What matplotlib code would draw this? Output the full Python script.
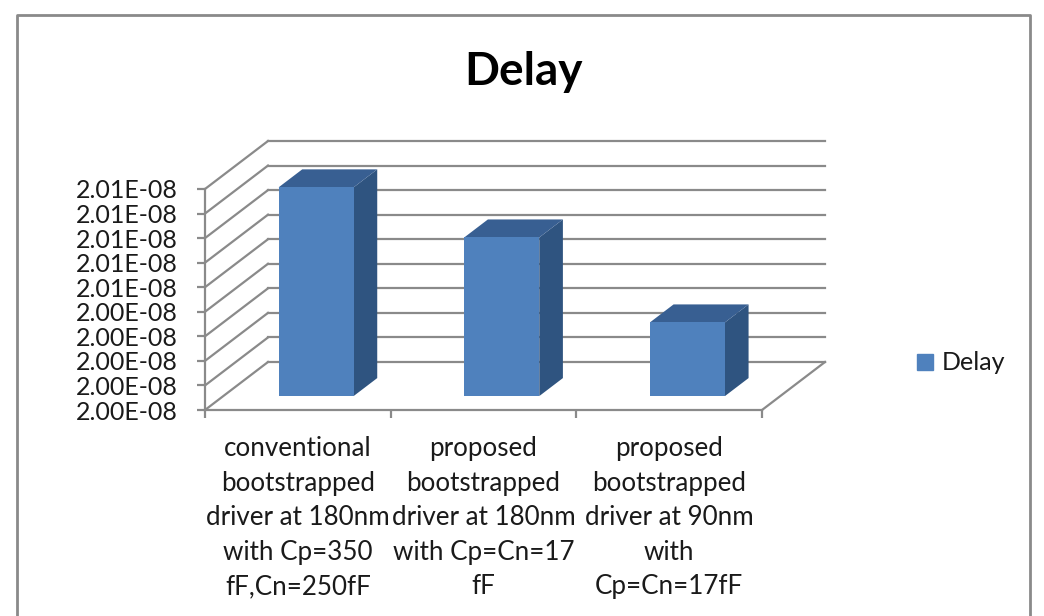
import matplotlib.pyplot as plt
from matplotlib.lines import Line2D
from matplotlib.patches import Patch
from matplotlib.transforms import Affine2D, IdentityTransform

categories = [
    "conventional\nbootstrapped\ndriver at 180nm\nwith Cp=350\nfF,Cn=250fF",
    "proposed\nbootstrapped\ndriver at 180nm\nwith Cp=Cn=17\nfF",
    "proposed\nbootstrapped\ndriver at 90nm\nwith\nCp=Cn=17fF",
]
delay = [2.0085e-08, 2.00646e-08, 2.0030e-08]
y_ticks = [2.000e-08, 2.001e-08, 2.002e-08, 2.003e-08, 2.004e-08,
           2.005e-08, 2.006e-08, 2.007e-08, 2.008e-08, 2.009e-08]
y_labels = ["2.00E-08"] * 5 + ["2.01E-08"] * 5

GREY = "#8a8a8a"
TEXT = "#1a1a1a"
FRONT = "#4f81bd"
SIDE = "#2f5480"
TOP = "#385f92"

# profundidade do grafico 3D, em pixels
DEPTH_X = 63
DEPTH_Y = 48
BAR_FRONT = 0.29
BAR_BACK = 0.665
BAR_WIDTH = 0.404

plt.rcParams["font.family"] = ["Lato", "DejaVu Sans"]

fig = plt.figure(figsize=(10.44, 6.16), dpi=100)
ax = fig.add_axes([205 / 1044, 1 - 410 / 616, 557 / 1044, 221 / 616])
ax.set_xlim(0, 3)
ax.set_ylim(y_ticks[0], y_ticks[-1])
ax.patch.set_visible(False)


def tf(d):
    return ax.transData + Affine2D().translate(DEPTH_X * d, DEPTH_Y * d)


def diagonal(x, y):
    # Linha da frente ate o fundo do grafico
    x0, y0 = ax.transData.transform((x, y))
    ax.add_line(Line2D([x0, x0 + DEPTH_X], [y0, y0 + DEPTH_Y], color=GREY, lw=1.6,
                       transform=IdentityTransform(), clip_on=False, zorder=1))


# parede do fundo e parede lateral
for v in y_ticks:
    ax.plot([0, 3], [v, v], color=GREY, lw=1.6, transform=tf(1), clip_on=False, zorder=1)
    diagonal(0, v)

# lado direito do piso
diagonal(3, y_ticks[0])

# barras com as tres faces visiveis
positions = [i + 0.5 for i in range(len(delay))]
for pos, val in zip(positions, delay):
    left = pos - BAR_WIDTH / 2
    right = pos + BAR_WIDTH / 2
    base = y_ticks[0]
    ax.fill([left, right, right, left], [base, base, val, val], color=FRONT, lw=0,
            transform=tf(BAR_FRONT), zorder=4, clip_on=False)
    xa, ya = tf(BAR_FRONT).transform((right, base))
    xb, yb = tf(BAR_FRONT).transform((right, val))
    xc, yc = tf(BAR_FRONT).transform((left, val))
    dx = DEPTH_X * (BAR_BACK - BAR_FRONT)
    dy = DEPTH_Y * (BAR_BACK - BAR_FRONT)
    ax.fill([xa, xa + dx, xb + dx, xb], [ya, ya + dy, yb + dy, yb], color=SIDE, lw=0,
            transform=IdentityTransform(), zorder=3, clip_on=False)
    ax.fill([xc, xb, xb + dx, xc + dx], [yc, yb, yb + dy, yc + dy], color=TOP, lw=0,
            transform=IdentityTransform(), zorder=3, clip_on=False)

for side in ["top", "right"]:
    ax.spines[side].set_visible(False)
for side in ["left", "bottom"]:
    ax.spines[side].set_color(GREY)
    ax.spines[side].set_linewidth(1.6)

ax.set_yticks(y_ticks)
ax.set_yticklabels(y_labels, fontsize=18, color=TEXT)
ax.tick_params(axis="y", color=GREY, width=1.6, length=6, pad=13.5)

ax.set_xticks([0, 1, 2, 3])
ax.set_xticklabels([])
ax.tick_params(axis="x", which="major", color=GREY, width=1.6, length=6)
ax.set_xticks(positions, minor=True)
ax.set_xticklabels(categories, minor=True, fontsize=18.7, color=TEXT, linespacing=1.47)
ax.tick_params(axis="x", which="minor", length=0, pad=19)

fig.text(523 / 1044, 1 - 72 / 616, "Delay", fontsize=33, fontweight="bold",
         color="black", ha="center", va="center")

fig.legend(handles=[Patch(color=FRONT, label="Delay")], loc="center left",
           bbox_to_anchor=(894 / 1044, 1 - 363 / 616), frameon=False, fontsize=18,
           handlelength=0.64, handleheight=0.6, handletextpad=0.36, labelcolor=TEXT)

# moldura do grafico, sem a borda de baixo
frame_x = [17 / 1044, 17 / 1044, 1030 / 1044, 1030 / 1044]
frame_y = [0, 1 - 15 / 616, 1 - 15 / 616, 0]
fig.add_artist(Line2D(frame_x, frame_y, color=GREY, lw=2, transform=fig.transFigure))

fig.savefig("out.png", dpi=100)
